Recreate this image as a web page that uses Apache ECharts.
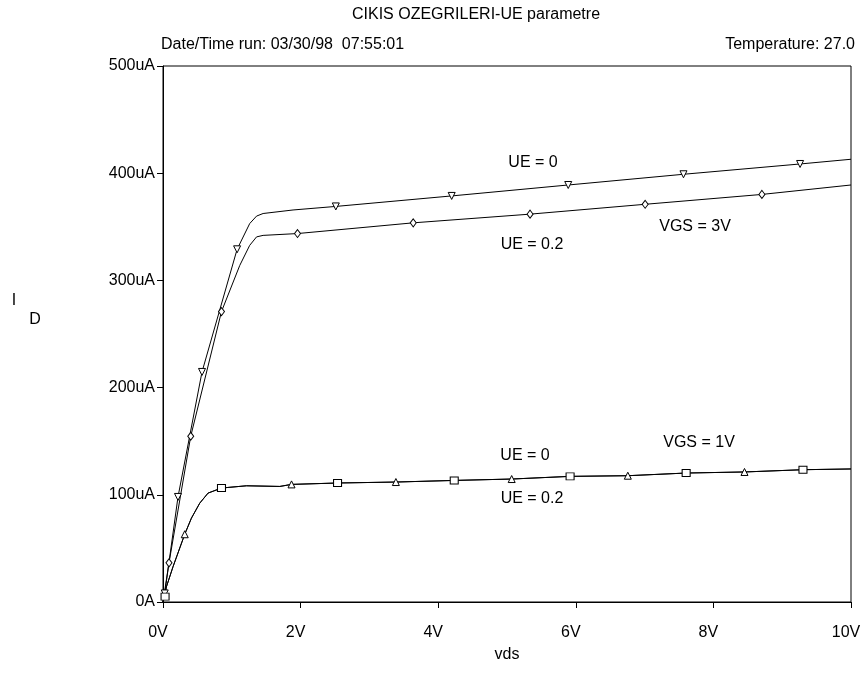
<!DOCTYPE html>
<html>
<head>
    <meta charset="utf-8">
    <title>CIKIS OZEGRILERI-UE parametre</title>
    <script src="https://cdn.jsdelivr.net/npm/echarts@6/dist/echarts.min.js"></script>
    <style>
        html,body{
            margin: 0;
            padding: 0;
            background-color: #ffffff;
        }
        #chart{
            width: 866px;
            height: 673px;
        }
    </style>
</head>
<body>
<div id="chart"></div>
<script>
    // [vds (V), Id (uA)]
    var vgs3Ue0 = [[0,0],[0.025,8],[0.218,98],[0.567,214.6],[1.077,329],[1.26,353],[1.36,360],[1.455,362.4],[1.89,365.7],
        [2.512,369],[4.196,378.8],[5.89,389],[7.565,399],[9.26,408.6],[10,413]];
    var vgs3Ue0Marks = [1,2,3,4,9,10,11,12,13];

    var vgs3Ue02 = [[0,0],[0.087,36.5],[0.403,154.6],[0.85,270.9],[1.116,314],[1.26,332.7],[1.36,340.6],[1.455,342],
        [1.955,343.7],[3.637,353.7],[5.335,361.8],[7.008,371],[8.705,380.2],[10,389]];
    var vgs3Ue02Marks = [1,2,3,8,9,10,11,12];

    var vgs1Ue0 = [[0,0],[0.03,5],[0.049,14],[0.145,32.8],[0.316,63.2],[0.413,78.2],[0.534,92.2],[0.655,101.6],[0.85,106.3],
        [1.213,108.4],[1.698,107.8],[1.868,109.7],[2.537,111],[3.385,111.9],[4.233,113.4],[5.068,114.7],[5.917,117.2],
        [6.756,117.8],[7.604,120.3],[8.452,121.3],[9.302,123.4],[10,124.1]];
    var vgs1Ue0Marks = [1,8,12,14,16,18,20];

    var vgs1Ue02 = [[0,0],[0.049,14],[0.145,32.8],[0.316,63.2],[0.413,78.2],[0.534,92.2],[0.655,101.6],[0.85,106.3],
        [1.213,108.4],[1.698,107.8],[1.868,109.7],[2.537,111],[3.385,111.9],[4.233,113.4],[5.068,114.7],[5.917,117.2],
        [6.756,117.8],[7.604,120.3],[8.452,121.3],[9.302,123.4],[10,124.1]];
    var vgs1Ue02Marks = [3,10,12,14,16,18];

    var xTicks = [0,2,4,6,8,10];
    var yTicks = [0,100,200,300,400,500];

    var FONT = "'Liberation Sans', Arial, sans-serif";

    function makeSeries(name, pts, marks, symbol, rotate, size){
        var data = [];
        for(var i=0;i<pts.length;i++){
            var item = {value: pts[i]};
            item.symbol = marks.indexOf(i) >= 0 ? symbol : 'none';
            data.push(item);
        }
        return {
            name: name,
            type: 'line',
            data: data,
            showSymbol: true,
            showAllSymbol: true,
            symbolSize: size,
            symbolRotate: rotate,
            smooth: false,
            animation: false,
            lineStyle: {color: '#000', width: 1},
            itemStyle: {color: '#fff', borderColor: '#000', borderWidth: 1}
        };
    }

    function txt(text, x, y, align){
        return {
            type: 'text',
            x: x,
            y: y,
            style: {
                text: text,
                fill: '#000',
                font: '16px ' + FONT,
                textAlign: align || 'center',
                textVerticalAlign: 'middle'
            }
        };
    }

    var myChart = echarts.init(document.getElementById('chart'));
    var option = {
        backgroundColor: '#ffffff',
        animation: false,
        grid: {
            left: 163,
            right: 15,
            top: 66,
            bottom: 71,
            containLabel: false,
            outerBoundsMode: 'none',
            show: true,
            borderColor: '#000',
            borderWidth: 1
        },
        xAxis: {
            type: 'value',
            min: xTicks[0],
            max: xTicks[xTicks.length-1],
            interval: xTicks[1]-xTicks[0],
            axisLine: {lineStyle: {color: '#000', width: 1}},
            axisTick: {show: true, length: 6, lineStyle: {color: '#000'}},
            splitLine: {show: false},
            axisLabel: {
                color: '#000',
                fontSize: 16,
                fontFamily: FONT,
                margin: 23,
                padding: [0, 10, 0, 0],
                formatter: function(v){ return v + 'V'; }
            }
        },
        yAxis: {
            type: 'value',
            min: yTicks[0],
            max: yTicks[yTicks.length-1],
            interval: yTicks[1]-yTicks[0],
            axisLine: {show: true, lineStyle: {color: '#000', width: 1}},
            axisTick: {show: true, length: 6, lineStyle: {color: '#000'}},
            splitLine: {show: false},
            axisLabel: {
                color: '#000',
                fontSize: 16,
                fontFamily: FONT,
                margin: 8,
                formatter: function(v){ return v === 0 ? '0A' : v + 'uA'; }
            }
        },
        series: [
            makeSeries('VGS=3V UE=0', vgs3Ue0, vgs3Ue0Marks, 'triangle', 180, 7),
            makeSeries('VGS=3V UE=0.2', vgs3Ue02, vgs3Ue02Marks, 'diamond', 0, [6,8]),
            makeSeries('VGS=1V UE=0', vgs1Ue0, vgs1Ue0Marks, 'rect', 0, [8,7]),
            makeSeries('VGS=1V UE=0.2', vgs1Ue02, vgs1Ue02Marks, 'triangle', 0, 7)
        ],
        graphic: [
            txt('CIKIS OZEGRILERI-UE parametre', 476, 15),
            txt('Date/Time run: 03/30/98  07:55:01', 161, 45, 'left'),
            txt('Temperature: 27.0', 855, 45, 'right'),
            txt('UE = 0', 533, 163),
            txt('UE = 0.2', 532, 245),
            txt('VGS = 3V', 695, 227),
            txt('UE = 0', 525, 456),
            txt('UE = 0.2', 532, 499),
            txt('VGS = 1V', 699, 443),
            txt('vds', 507, 655),
            txt('I', 14, 301),
            txt('D', 35, 320)
        ]
    };
    myChart.setOption(option);
</script>
</body>
</html>
